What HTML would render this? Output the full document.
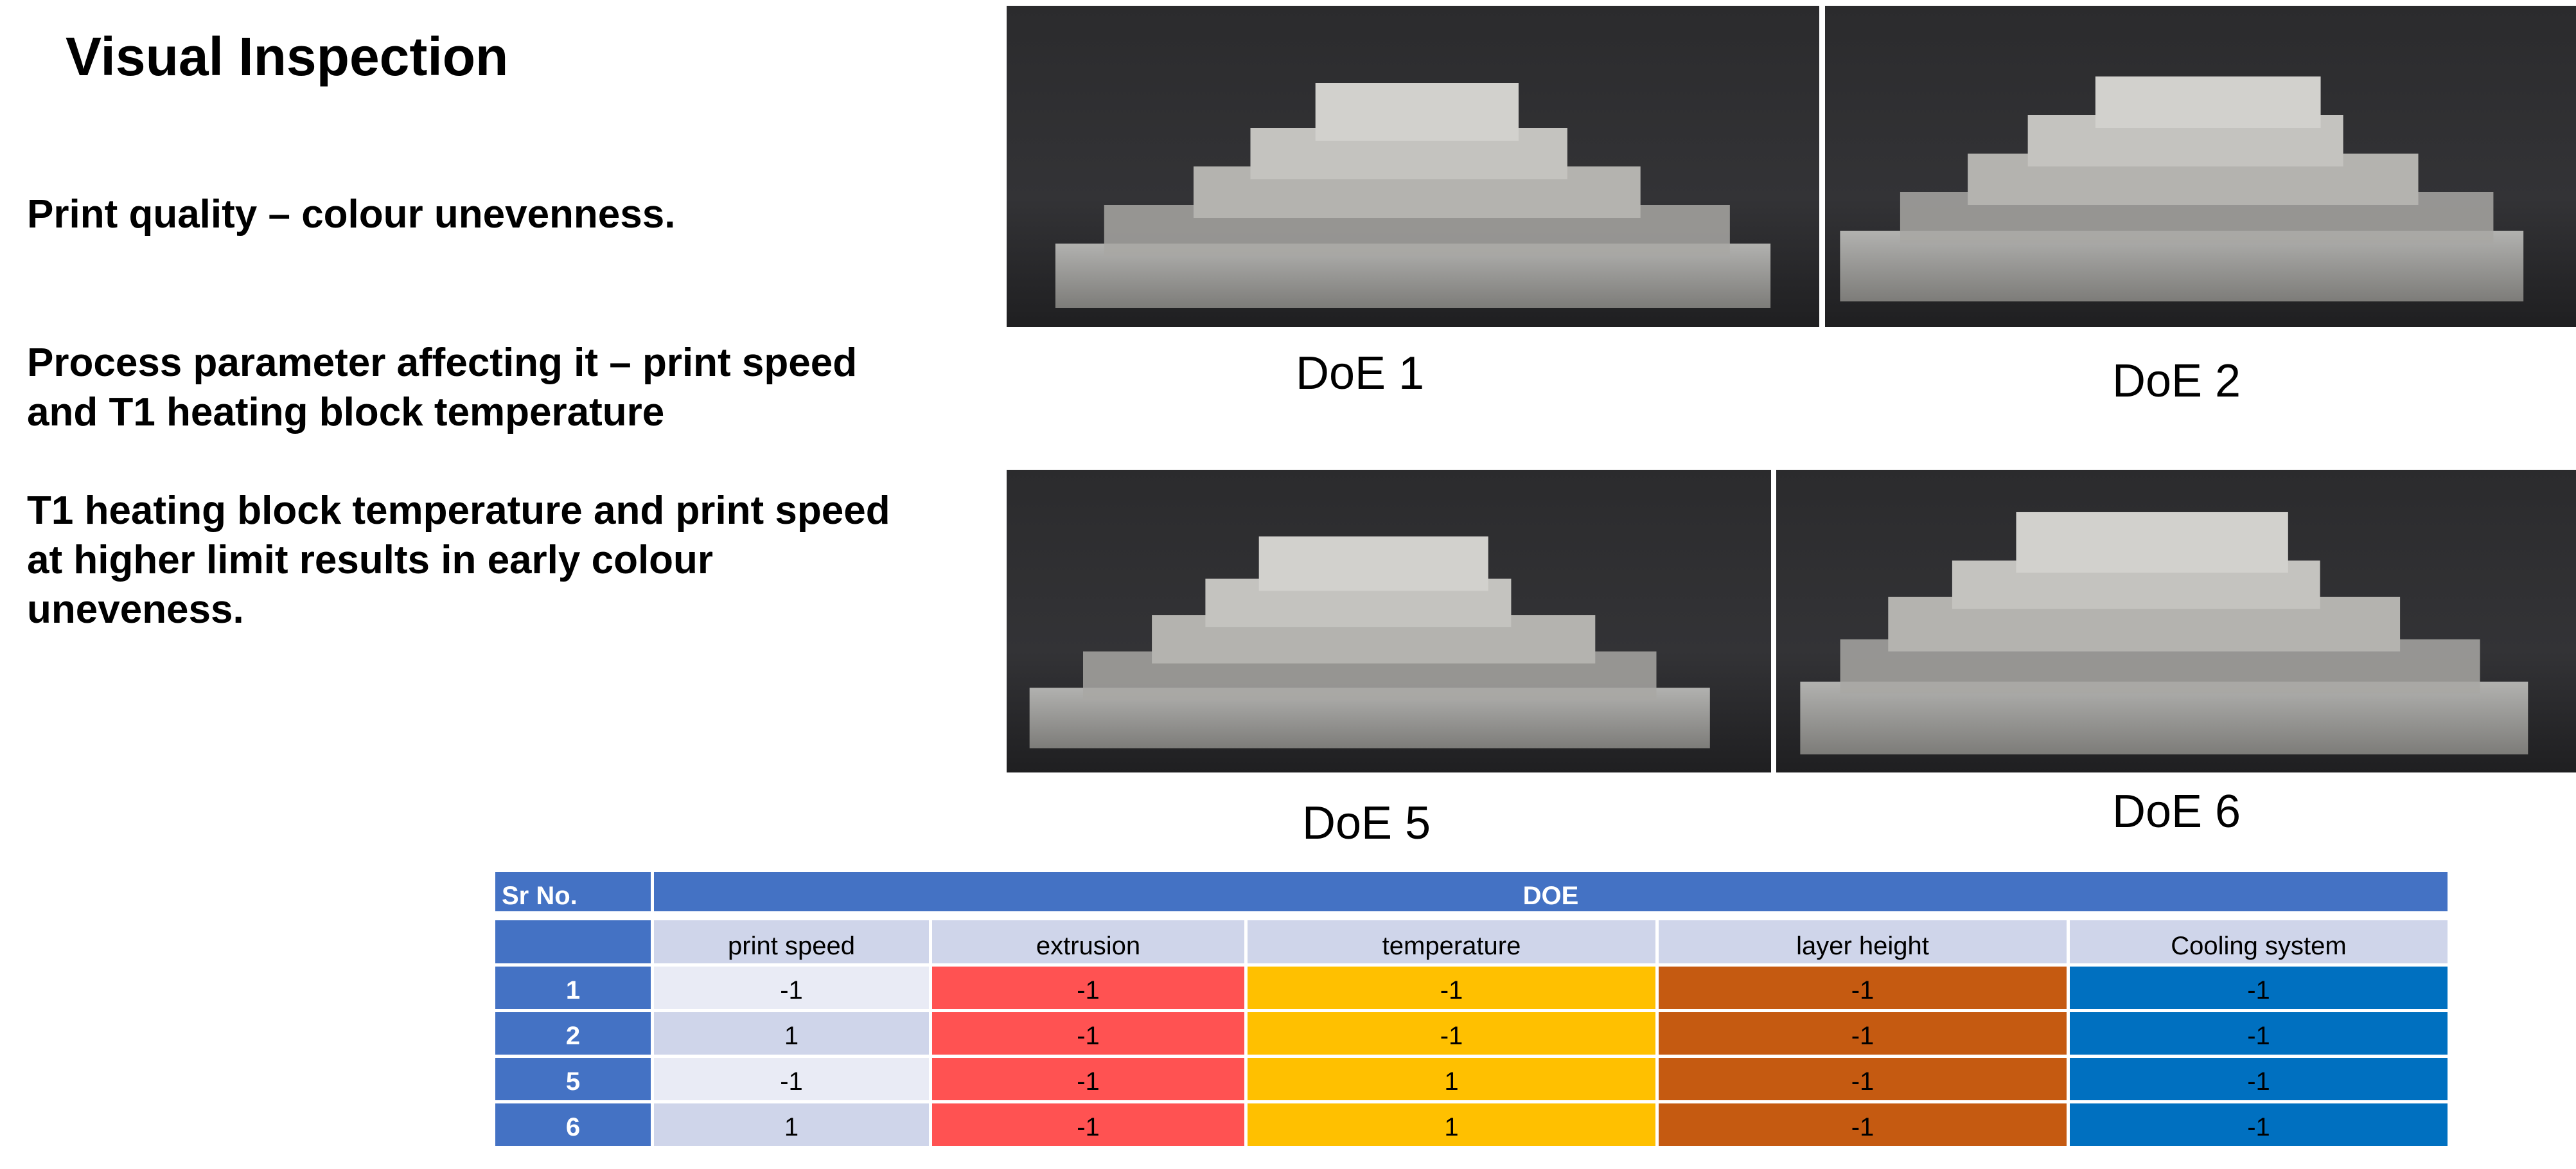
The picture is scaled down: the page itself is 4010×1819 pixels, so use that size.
<!DOCTYPE html>
<html><head><meta charset="utf-8">
<style>
*{margin:0;padding:0;box-sizing:border-box}
body{width:4010px;height:1819px;background:#fff;position:relative;overflow:hidden;font-family:"Liberation Sans",sans-serif}
.t{position:absolute;white-space:nowrap;color:#000}
.txt{font-weight:bold;font-size:62px;left:42px}
.ph{position:absolute;overflow:hidden}
.lab{font-size:72px;transform:translateX(-50%)}
.c{position:absolute;display:flex;align-items:center;justify-content:center;font-size:40px;color:#000}
</style></head><body>
<div class="t" style="left:102px;top:40px;font-size:84px;font-weight:bold">Visual Inspection</div>
<div class="t txt" style="top:298px">Print quality – colour unevenness.</div>
<div class="t txt" style="top:526px;line-height:77px">Process parameter affecting it – print speed<br>and T1 heating block temperature</div>
<div class="t txt" style="top:756px;line-height:77px">T1 heating block temperature and print speed<br>at higher limit results in early colour<br>uneveness.</div>

<svg width="0" height="0" style="position:absolute"><defs>
<linearGradient id="bg" x1="0" y1="0" x2="0" y2="1"><stop offset="0" stop-color="#2b2b2d"/><stop offset="0.6" stop-color="#333336"/><stop offset="1" stop-color="#1f1f21"/></linearGradient>
<linearGradient id="pl" x1="0" y1="0" x2="0" y2="1"><stop offset="0" stop-color="#c9c9c6"/><stop offset="1" stop-color="#8d8c88"/></linearGradient>
</defs></svg>

<div class="ph" style="left:1567px;top:9px;width:1265px;height:500px"><svg width="100%" height="100%" viewBox="0 0 100 100" preserveAspectRatio="none"><rect width="100" height="100" fill="url(#bg)"/><rect x="6" y="74" width="88" height="20" fill="url(#pl)" opacity=".85"/><rect x="12" y="62" width="77" height="16" fill="#a8a7a3" opacity=".85"/><rect x="23" y="50" width="55" height="16" fill="#b4b3af"/><rect x="30" y="38" width="39" height="16" fill="#c4c3bf"/><rect x="38" y="24" width="25" height="18" fill="#d2d1cd"/></svg></div>
<div class="ph" style="left:2841px;top:9px;width:1169px;height:500px"><svg width="100%" height="100%" viewBox="0 0 100 100" preserveAspectRatio="none"><rect width="100" height="100" fill="url(#bg)"/><rect x="2" y="70" width="91" height="22" fill="url(#pl)" opacity=".85"/><rect x="10" y="58" width="79" height="16" fill="#a8a7a3" opacity=".85"/><rect x="19" y="46" width="60" height="16" fill="#b4b3af"/><rect x="27" y="34" width="42" height="16" fill="#c4c3bf"/><rect x="36" y="22" width="30" height="16" fill="#d2d1cd"/></svg></div>
<div class="ph" style="left:1567px;top:731px;width:1190px;height:471px"><svg width="100%" height="100%" viewBox="0 0 100 100" preserveAspectRatio="none"><rect width="100" height="100" fill="url(#bg)"/><rect x="3" y="72" width="89" height="20" fill="url(#pl)" opacity=".85"/><rect x="10" y="60" width="75" height="16" fill="#a8a7a3" opacity=".85"/><rect x="19" y="48" width="58" height="16" fill="#b4b3af"/><rect x="26" y="36" width="40" height="16" fill="#c4c3bf"/><rect x="33" y="22" width="30" height="18" fill="#d2d1cd"/></svg></div>
<div class="ph" style="left:2765px;top:731px;width:1245px;height:471px"><svg width="100%" height="100%" viewBox="0 0 100 100" preserveAspectRatio="none"><rect width="100" height="100" fill="url(#bg)"/><rect x="3" y="70" width="91" height="24" fill="url(#pl)" opacity=".85"/><rect x="8" y="56" width="80" height="18" fill="#a8a7a3" opacity=".85"/><rect x="14" y="42" width="64" height="18" fill="#b4b3af"/><rect x="22" y="30" width="46" height="16" fill="#c4c3bf"/><rect x="30" y="14" width="34" height="20" fill="#d2d1cd"/></svg></div>

<div class="t lab" style="left:2117px;top:540px">DoE 1</div>
<div class="t lab" style="left:3388px;top:552px">DoE 2</div>
<div class="t lab" style="left:2127px;top:1240px">DoE 5</div>
<div class="t lab" style="left:3388px;top:1222px">DoE 6</div>

<div id="tbl"></div>
<script>
const cols=[[771,1013],[1018,1446],[1451,1937],[1942,2577],[2582,3217],[3222,3810]];
const rowsY=[[1504,1570],[1575,1641],[1646,1712],[1717,1783]];
const heads=["print speed","extrusion","temperature","layer height","Cooling system"];
const srNo=["1","2","5","6"];
const vals=[[-1,-1,-1,-1,-1],[1,-1,-1,-1,-1],[-1,-1,1,-1,-1],[1,-1,1,-1,-1]];
const colColors=[null,"#ff5252","#ffc000","#c55a11","#0070c0"];
const tbl=document.getElementById('tbl');
function cell(x1,y1,x2,y2,bg,txt,style,name){
  const d=document.createElement('div');d.className='c';
  d.style.cssText=`left:${x1}px;top:${y1}px;width:${x2-x1}px;height:${y2-y1}px;background:${bg};`+(style||'');
  d.textContent=txt;
  
  
  tbl.appendChild(d);
}
cell(771,1357,1013,1418,"#4472c4","Sr No.","color:#fff;font-weight:bold;justify-content:flex-start;padding-left:10px;padding-top:14px","header-sr-no");
cell(1018,1357,3810,1418,"#4472c4","DOE","color:#fff;font-weight:bold;padding-top:14px","header-doe");
cell(771,1432,1013,1499,"#4472c4","","","header-blank");
heads.forEach((h,i)=>cell(cols[i+1][0],1432,cols[i+1][1],1499,"#cfd5ea",h,"padding-top:14px","header-"+h.replace(/ /g,'-').toLowerCase()));
srNo.forEach((s,r)=>{
  const [y1,y2]=rowsY[r];
  cell(771,y1,1013,y2,"#4472c4",s,"color:#fff;font-weight:bold;padding-top:8px","sr-"+s);
  vals[r].forEach((v,i)=>{
    const bg=i===0?(r%2===0?"#e9ebf5":"#cfd5ea"):colColors[i];
    cell(cols[i+1][0],y1,cols[i+1][1],y2,bg,String(v),"padding-top:8px","cell-r"+s+"-c"+(i+1));
  });
});
</script>
</body></html>
